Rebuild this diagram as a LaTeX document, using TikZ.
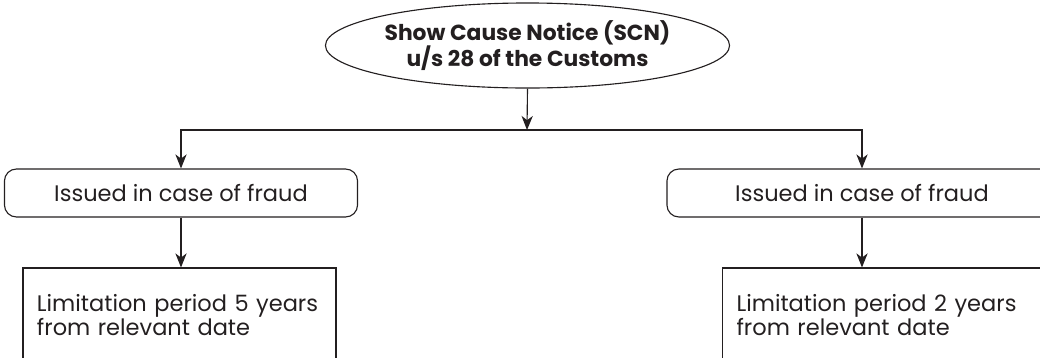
\documentclass[tikz,border=0pt]{standalone}
\usepackage{fontspec}
\setmainfont{Poppins}
\usepackage{tikz}
\usetikzlibrary{shapes.geometric,arrows.meta}
\definecolor{scnink}{RGB}{35,31,32}

\begin{document}
\begin{tikzpicture}[x=0.025cm, y=-0.025cm, line width=0.8pt, >={Stealth[length=10pt, width=8pt, inset=3pt]}, every node/.style={font=\fontsize{16}{17.5}\selectfont, text=scnink}]
        \path[use as bounding box, clip] (0,0) rectangle (1040,357);
        \node[draw=scnink, ellipse, inner sep=0pt, minimum width=9.525cm, minimum height=2.125cm, align=center, font=\fontsize{15.5}{16.5}\selectfont\bfseries] (scn) at (527.5,45.5) {Show Cause Notice (SCN)\\u/s 28 of the Customs};
        \coordinate (split) at (527,130);
        \node[draw=scnink, rounded corners=0.3cm, minimum width=8.825cm, minimum height=1.2cm] (lfraud) at (181,193) {Issued in case of fraud};
        \node[draw=scnink, rounded corners=0.3cm, minimum width=9.75cm, minimum height=1.2cm] (rfraud) at (862,193) {Issued in case of fraud};
        \node[draw=scnink, inner xsep=0.35cm, text width=7.125cm, minimum height=2.35cm, align=left] (llimit) at (179.5,315) {Limitation period 5 years\\from relevant date};
        \node[draw=scnink, anchor=west, inner xsep=0.35cm, text width=7.8cm, minimum height=2.35cm, align=left] (rlimit) at (722,315) {Limitation period 2 years\\from relevant date};
        \draw[->, scnink] (scn.south) -- (split);
        \draw[->, scnink] (split) -| (lfraud.north);
        \draw[->, scnink] (split) -| (rfraud.north);
        \draw[->, scnink] (lfraud.south) -- (lfraud.south |- llimit.north);
        \draw[->, scnink] (rfraud.south) -- (rfraud.south |- rlimit.north);
      \end{tikzpicture}
\end{document}
